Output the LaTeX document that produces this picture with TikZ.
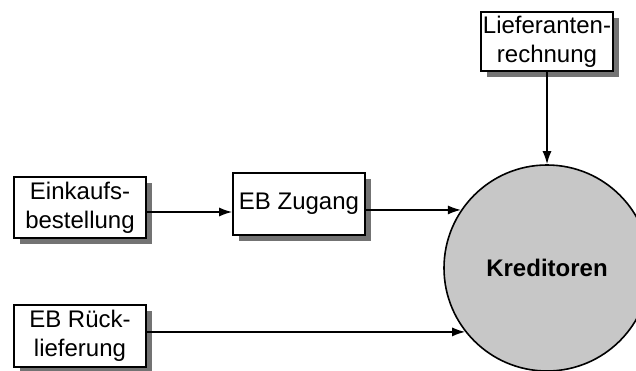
\documentclass[tikz,border=0pt]{standalone}
\usepackage{fontspec}
\setmainfont{Liberation Sans}
\usetikzlibrary{arrows.meta,shadows}
\begin{document}
\begin{tikzpicture}[x=1pt,y=-1pt,
  box/.style={draw, line width=1.6pt, fill=white, align=center,
    minimum width=132pt, inner sep=0pt,
    font=\fontsize{24}{29}\selectfont,
    drop shadow={shadow xshift=6pt, shadow yshift=-6pt, fill=black!55, opacity=1}},
  arr/.style={line width=1.5pt, -{Latex[length=13pt,width=9pt]}}]
\useasboundingbox (0,0) rectangle (636,370);
\node[box, minimum height=61pt] (ein) at (80,207.5) {Einkaufs-\\bestellung};
\node[box, minimum height=62pt] (zug) at (299,204) {EB Zugang};
\node[box, minimum height=62pt] (rue) at (80,336) {EB Rück-\\lieferung};
\node[box, minimum height=59pt] (lie) at (547,41.5) {Lieferanten-\\rechnung};
\node[circle, draw, line width=1.6pt, fill=black!22, minimum size=206pt, inner sep=0pt,
  font=\fontsize{24}{29}\selectfont\bfseries] (kred) at (547,268) {Kreditoren};
\draw[arr] (ein.east |- 0,212) -- (zug.west |- 0,212);
\draw[arr] (zug.east |- kred.146) -- (kred.146);
\draw[arr] (rue.east |- kred.218) -- (kred.218);
\draw[arr] (lie.south) -- (kred.north);
\end{tikzpicture}
\end{document}
